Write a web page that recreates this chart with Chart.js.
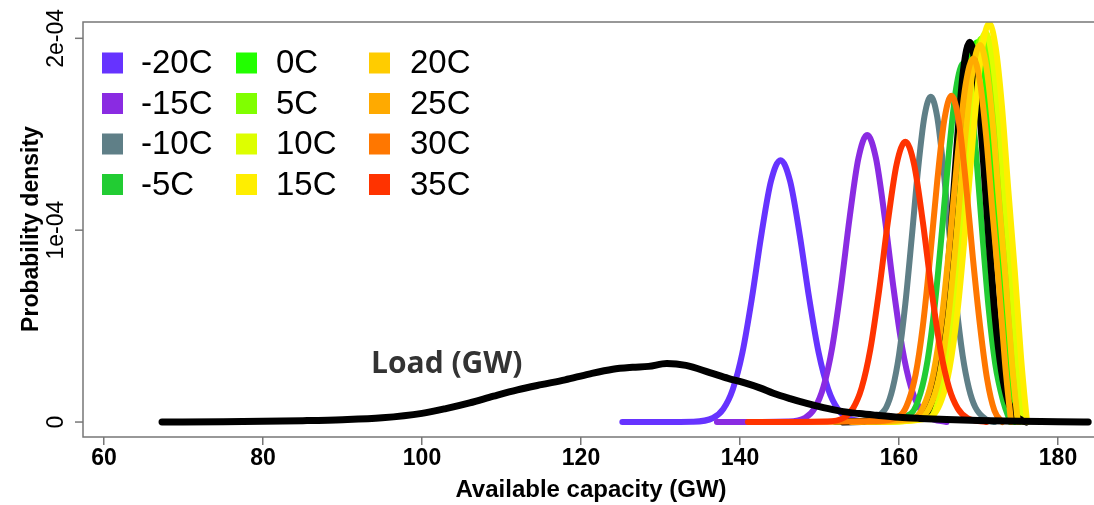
<!DOCTYPE html>
<html>
<head>
<meta charset="utf-8">
<script src="https://cdn.jsdelivr.net/npm/chart.js@4.4.0/dist/chart.umd.min.js"></script>
<style>
  html, body { margin: 0; padding: 0; background: #fff; }
  #wrap { position: relative; width: 1094px; height: 505px; }
</style>
</head>
<body>
<div id="wrap"><canvas id="chart"></canvas></div>
<script>
// densities are in units of 1e-4 (axis labels say so)
var xTicks = [60, 80, 100, 120, 140, 160, 180];
var yTicks = [0, 1, 2];
var yTickLabels = ["0", "1e-04", "2e-04"];

var tempLabels = ["-20C", "-15C", "-10C", "-5C", "0C", "5C", "10C", "15C", "20C", "25C", "30C", "35C"];
var tempColors = ["#6633FF", "#8A2BE2", "#5F7F87", "#22CC33", "#22FF00", "#80FF00",
                  "#DDFF00", "#FFEE00", "#FFCC00", "#FFAA00", "#FF7700", "#FF3300"];

var capM20 = [125.2, 134, 136.6, 137.9, 139.1, 140.3, 141.5, 142.7, 143.9, 145.1, 146.3, 147.5, 148.7, 149.9, 151.1, 152.3, 153.6, 156];
var denM20 = [0, 0.002, 0.021, 0.068, 0.171, 0.360, 0.646, 0.979, 1.256, 1.365, 1.256, 0.979, 0.646, 0.360, 0.171, 0.068, 0.021, 0];

var capM15 = [137.1, 146, 148.2, 149.4, 150.5, 151.6, 152.7, 153.8, 154.9, 156.0, 157.1, 158.2, 159.3, 160.4, 161.5, 162.6, 163.8, 166];
var denM15 = [0, 0.003, 0.022, 0.072, 0.183, 0.389, 0.702, 1.068, 1.375, 1.496, 1.375, 1.068, 0.702, 0.389, 0.183, 0.072, 0.022, 0];

var capM10 = [153, 155, 157, 158.4, 159.2, 160, 160.8, 161.6, 162.4, 163.2, 164, 164.8, 165.6, 166.4, 167.2, 168, 168.8, 169.6, 171, 172];
var denM10 = [0, 0.005, 0.025, 0.077, 0.175, 0.349, 0.617, 0.959, 1.317, 1.592, 1.695, 1.592, 1.317, 0.959, 0.617, 0.349, 0.175, 0.077, 0.013, 0];

var capM5 = [152, 158, 161.5, 162.7, 163.6, 164.5, 165.4, 166.3, 167.2, 168.1, 168.9, 169.7, 170.5, 171.3, 172.1, 173.1, 174];
var denM5 = [0, 0.008, 0.043, 0.150, 0.322, 0.608, 0.993, 1.412, 1.743, 1.87, 1.739, 1.399, 0.974, 0.585, 0.305, 0.11, 0];

var cap0 = [155, 162.3, 163.8, 164.8, 165.8, 166.8, 167.8, 168.8, 169.8, 170.6, 171.4, 172.2, 173.0, 173.8, 174.2, 174.55];
var den0 = [0, 0.022, 0.111, 0.267, 0.550, 0.964, 1.438, 1.828, 1.98, 1.861, 1.564, 1.148, 0.752, 0.317, 0.139, 0];

var cap5 = [157, 162.9, 164.4, 165.4, 166.4, 167.4, 168.4, 169.4, 170.4, 171.2, 172.0, 172.8, 173.6, 174.4, 174.8, 175.15];
var den5 = [0, 0.022, 0.112, 0.270, 0.556, 0.974, 1.452, 1.846, 2.0, 1.88, 1.58, 1.16, 0.76, 0.32, 0.14, 0];

var cap10 = [157.5, 163.4, 164.9, 165.9, 166.9, 167.9, 168.9, 169.9, 170.9, 171.7, 172.5, 173.3, 174.1, 174.9, 175.3, 175.65];
var den10 = [0, 0.022, 0.114, 0.274, 0.564, 0.989, 1.474, 1.874, 2.03, 1.908, 1.604, 1.177, 0.771, 0.325, 0.142, 0];

var cap15 = [158, 163.86, 165.36, 166.36, 167.36, 168.36, 169.36, 170.36, 171.36, 172.16, 172.96, 173.76, 174.56, 175.36, 175.76, 176.11];
var den15 = [0, 0.023, 0.116, 0.281, 0.578, 1.012, 1.509, 1.918, 2.078, 1.953, 1.642, 1.205, 0.79, 0.332, 0.145, 0];

var cap20 = [156, 162.7, 164.2, 165.2, 166.2, 167.2, 168.2, 169.2, 170.2, 171.0, 171.8, 172.6, 173.4, 174.2, 174.6, 174.95];
var den20 = [0, 0.022, 0.110, 0.265, 0.546, 0.957, 1.427, 1.814, 1.965, 1.847, 1.552, 1.140, 0.747, 0.314, 0.138, 0];

var cap25 = [154, 161.85, 163.35, 164.35, 165.35, 166.35, 167.35, 168.35, 169.35, 170.15, 170.95, 171.75, 172.55, 173.35, 173.75, 174.1];
var den25 = [0, 0.021, 0.106, 0.256, 0.527, 0.923, 1.376, 1.749, 1.895, 1.781, 1.497, 1.099, 0.720, 0.303, 0.133, 0];

var cap30 = [146, 157, 160.2, 161.2, 162.1, 163.0, 163.9, 164.8, 165.7, 166.6, 167.5, 168.4, 169.3, 170.2, 171.1, 172, 173];
var den30 = [0, 0.005, 0.036, 0.109, 0.25, 0.5, 0.853, 1.251, 1.574, 1.70, 1.574, 1.251, 0.853, 0.5, 0.22, 0.06, 0];

var cap35 = [141, 151, 153, 154.2, 155.3, 156.4, 157.5, 158.6, 159.7, 160.8, 161.9, 163.0, 164.1, 165.2, 166.3, 167.4, 168.6, 171];
var den35 = [0, 0.003, 0.021, 0.070, 0.178, 0.380, 0.685, 1.043, 1.343, 1.461, 1.343, 1.043, 0.685, 0.380, 0.178, 0.070, 0.021, 0];

// black curve in the cluster (no legend entry)
var capBlack = [153, 160, 163.1, 164.1, 164.9, 165.7, 166.5, 167.3, 168.1, 168.9, 169.7, 170.5, 171.3, 172.1, 172.9, 173.7, 174.7, 176];
var denBlack = [0, 0.01, 0.030, 0.111, 0.267, 0.550, 0.964, 1.438, 1.828, 1.98, 1.828, 1.438, 0.964, 0.550, 0.267, 0.111, 0.030, 0];

// load distribution
var capLoad = [67.3, 75, 80, 85, 90, 95, 100, 103, 106, 109, 112, 115, 118, 121, 124, 126.5, 128.5, 130.8, 133.2, 136.2,
               138.5, 140.5, 142.5, 144.2, 146.3, 148.4, 150.5, 152.6, 155, 157.2, 160, 162.6, 166, 170, 175, 180, 183.8];
var denLoad = [0, 0.002, 0.004, 0.007, 0.012, 0.022, 0.045, 0.07, 0.10, 0.135, 0.168, 0.195, 0.22, 0.25, 0.275, 0.285, 0.29, 0.305, 0.295, 0.258,
               0.228, 0.205, 0.178, 0.15, 0.122, 0.097, 0.075, 0.057, 0.044, 0.035, 0.025, 0.019, 0.013, 0.008, 0.004, 0.002, 0];

var tempCaps = [capM20, capM15, capM10, capM5, cap0, cap5, cap10, cap15, cap20, cap25, cap30, cap35];
var tempDens = [denM20, denM15, denM10, denM5, den0, den5, den10, den15, den20, den25, den30, den35];

function pts(xs, ys) {
  return xs.map(function (x, i) { return { x: x, y: ys[i] }; });
}

function lineSet(label, xs, ys, color, width) {
  return {
    label: label,
    data: pts(xs, ys),
    borderColor: color,
    backgroundColor: color,
    borderWidth: width,
    borderCapStyle: "round",
    borderJoinStyle: "round",
    cubicInterpolationMode: "monotone",
    pointRadius: 0,
    fill: false,
  };
}

// bottom to top; the black cluster curve sits under the warm ones
var layers = [];
tempLabels.forEach(function (t, i) {
  if (i == 7) layers.push(lineSet("black", capBlack, denBlack, "#000000", 7));
  layers.push(lineSet(t, tempCaps[i], tempDens[i], tempColors[i], 6));
});
layers.push(lineSet("Load (GW)", capLoad, denLoad, "#000000", 7));
layers.forEach(function (d, i) { d.order = layers.length - i; });

var frameColor = "#777777";

var rPlot = {
  id: "rPlot",
  afterDatasetsDraw: function (chart) {
    var ctx = chart.ctx;
    var a = chart.chartArea;
    var ys = chart.scales.y;
    ctx.save();

    // box (right side runs off the picture)
    ctx.strokeStyle = frameColor;
    ctx.lineWidth = 1.5;
    ctx.beginPath();
    ctx.moveTo(a.right + 2, a.top);
    ctx.lineTo(a.left, a.top);
    ctx.lineTo(a.left, a.bottom);
    ctx.lineTo(a.right + 2, a.bottom);
    ctx.stroke();

    // y ticks, rotated labels like R
    ctx.fillStyle = "#000";
    yTicks.forEach(function (v, i) {
      var py = ys.getPixelForValue(v);
      ctx.beginPath();
      ctx.moveTo(a.left - 8, py);
      ctx.lineTo(a.left, py);
      ctx.stroke();
      ctx.save();
      ctx.translate(63, py);
      ctx.rotate(-Math.PI / 2);
      ctx.font = '23px "Liberation Sans", Arial, sans-serif';
      ctx.textAlign = "center";
      ctx.textBaseline = "alphabetic";
      ctx.fillText(yTickLabels[i], 0, 0);
      ctx.restore();
    });

    // axis titles
    ctx.save();
    ctx.translate(38, 229);
    ctx.rotate(-Math.PI / 2);
    ctx.font = 'bold 23px "Liberation Sans", Arial, sans-serif';
    ctx.textAlign = "center";
    ctx.fillText("Probability density", 0, 0);
    ctx.restore();

    ctx.font = 'bold 24px "Liberation Sans", Arial, sans-serif';
    ctx.textAlign = "center";
    ctx.textBaseline = "alphabetic";
    ctx.fillText("Available capacity (GW)", 591, 497);

    // legend, 3 columns of 4
    var colSq = [102, 236, 369];
    var colTx = [141, 276, 410];
    var rowY = [63, 103.5, 144, 184.5];
    ctx.font = '33px "Liberation Sans", Arial, sans-serif';
    ctx.textAlign = "left";
    ctx.textBaseline = "middle";
    tempLabels.forEach(function (t, i) {
      var c = Math.floor(i / 4), r = i % 4;
      ctx.fillStyle = tempColors[i];
      ctx.fillRect(colSq[c], rowY[r] - 10.5, 21, 21);
      ctx.fillStyle = "#000";
      ctx.fillText(t, colTx[c], rowY[r] + 1);
    });

    // annotation
    ctx.fillStyle = "#333333";
    ctx.font = 'bold 30px "Open Sans", sans-serif';
    ctx.textBaseline = "alphabetic";
    ctx.fillText("Load (GW)", 371, 373);

    ctx.restore();
  },
};

new Chart(document.getElementById("chart"), {
  type: "line",
  data: { datasets: layers },
  options: {
    responsive: true,
    maintainAspectRatio: false,
    animation: false,
    layout: { padding: { top: 22, left: 83, right: 0, bottom: 0 } },
    plugins: {
      legend: { display: false },
      tooltip: { enabled: false },
    },
    scales: {
      x: {
        type: "linear",
        min: 57.36,
        max: 184.53,
        afterBuildTicks: function (scale) {
          scale.ticks = xTicks.map(function (v) { return { value: v }; });
        },
        afterFit: function (scale) { scale.height = 68; },
        grid: { drawOnChartArea: false, drawTicks: true, tickLength: 8, color: frameColor, lineWidth: 1.5 },
        border: { display: false },
        ticks: {
          font: { family: '"Liberation Sans", Arial, sans-serif', size: 23, weight: "bold" },
          color: "#000",
          padding: 0,
          maxRotation: 0,
          autoSkip: false,
        },
      },
      y: {
        type: "linear",
        display: false,
        min: -0.078,
        max: 2.085,
      },
    },
  },
  plugins: [rPlot],
});
</script>
</body>
</html>
